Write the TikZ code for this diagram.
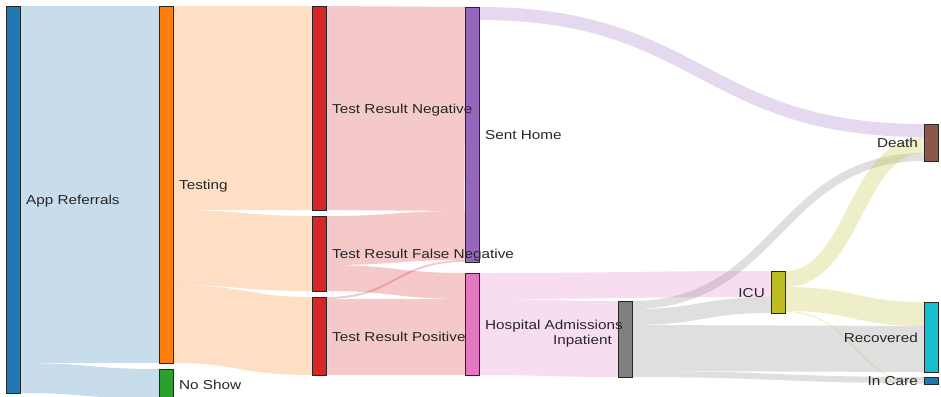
\documentclass[tikz,border=0pt]{standalone}
\usepackage{fontspec}
\setmainfont{Liberation Sans}[FakeStretch=1.18]
\usetikzlibrary{calc}
\definecolor{cblue}{HTML}{1F77B4}
\definecolor{corange}{HTML}{FF7F0E}
\definecolor{cgreen}{HTML}{2CA02C}
\definecolor{cred}{HTML}{D62728}
\definecolor{cpurple}{HTML}{9467BD}
\definecolor{cbrown}{HTML}{8C564B}
\definecolor{cpink}{HTML}{E377C2}
\definecolor{cgray}{HTML}{7F7F7F}
\definecolor{colive}{HTML}{BCBD22}
\definecolor{ccyan}{HTML}{17BECF}
\newcommand\flowlink[7]{%
  \draw[line width=#5bp, draw=#6, draw opacity=0.25]
    ($(#1.north east)+(0,{#2+#5/2})$) .. controls +(#7,0) and +(-#7,0) ..
    ($(#3.north west)+(0,{#4+#5/2})$);
}
\begin{document}
\begin{tikzpicture}[x=1bp,y=-1bp,
  geo/.style={minimum width=14bp, inner sep=0pt, outer sep=0pt, anchor=north west},
  lbl/.style={font=\fontsize{13}{15}\selectfont, text=black!85, inner sep=0pt},
  lblL/.style={lbl, anchor=base west},
  lblR/.style={lbl, anchor=base east}]
\useasboundingbox (0,0) rectangle (941,396);
\clip (0,0) rectangle (941,396);
% nodes (geometry first, boxes drawn later on top of the links)
\path
  (6,6)     node[geo, minimum height=387bp] (ar) {}
  (159,6)   node[geo, minimum height=357bp] (te) {}
  (159,369) node[geo, minimum height=30bp] (ns) {}
  (312,6)   node[geo, minimum height=204bp] (trn) {}
  (312,216) node[geo, minimum height=75bp] (trfn) {}
  (312,297) node[geo, minimum height=78bp] (trp) {}
  (465,7)   node[geo, minimum height=255bp] (sh) {}
  (465,273) node[geo, minimum height=102bp] (hosp) {}
  (618,301) node[geo, minimum height=76bp] (inp) {}
  (771,271) node[geo, minimum height=42bp] (icu) {}
  (924,124) node[geo, minimum height=37bp] (death) {}
  (924,302) node[geo, minimum height=70bp] (rec) {}
  (924,377) node[geo, minimum height=7bp] (incare) {};
% links
\flowlink{ar}{0}{te}{0}{357}{cblue}{69.5}
\flowlink{ar}{357}{ns}{0}{30}{cblue}{69.5}
\flowlink{te}{0}{trn}{0}{204}{corange}{69.5}
\flowlink{te}{204}{trfn}{0}{75}{corange}{69.5}
\flowlink{te}{279}{trp}{0}{78}{corange}{69.5}
\flowlink{trn}{0}{sh}{0}{204}{cred}{69.5}
\flowlink{trfn}{0}{sh}{204}{49}{cred}{69.5}
\flowlink{trp}{0}{sh}{253}{2}{cred}{69.5}
\flowlink{trfn}{49}{hosp}{0}{26}{cred}{69.5}
\flowlink{trp}{2}{hosp}{26}{76}{cred}{69.5}
\flowlink{sh}{0}{death}{0}{13}{cpurple}{222.5}
\flowlink{hosp}{0}{icu}{0}{26}{cpink}{146}
\flowlink{hosp}{26}{inp}{0}{76}{cpink}{69.5}
\flowlink{inp}{0}{death}{29}{8}{cgray}{146}
\flowlink{inp}{8}{icu}{26}{16}{cgray}{69.5}
\flowlink{inp}{24}{rec}{24}{46}{cgray}{146}
\flowlink{inp}{70}{incare}{0}{6}{cgray}{146}
\flowlink{icu}{0}{death}{13}{16}{colive}{69.5}
\flowlink{icu}{16}{rec}{0}{24}{colive}{69.5}
\flowlink{icu}{40}{incare}{6}{1}{colive}{69.5}
% node boxes
\foreach \n/\c in {ar/cblue, te/corange, ns/cgreen, trn/cred, trfn/cred, trp/cred, sh/cpurple, hosp/cpink, inp/cgray, icu/colive, death/cbrown, rec/ccyan, incare/cblue}
  \draw[draw=black!85, line width=0.8bp, fill=\c] (\n.north west) rectangle (\n.south east);
% labels
\node[lblL] (lar)   at ($(ar.east)+(6,5)$)   {App Referrals};
\node[lblL] (lte)   at ($(te.east)+(6,5)$)   {Testing};
\node[lblL] (lns)   at ($(ns.east)+(6,5)$)   {No Show};
\node[lblL] (ltrn)  at ($(trn.east)+(6,5)$)  {Test Result Negative};
\node[lblL] (ltrfn) at ($(trfn.east)+(6,5)$) {Test Result False Negative};
\node[lblL] (ltrp)  at ($(trp.east)+(6,5)$)  {Test Result Positive};
\node[lblL] (lsh)   at ($(sh.east)+(6,5)$)   {Sent Home};
\node[lblL] (lhosp) at ($(hosp.east)+(6,5)$) {Hospital Admissions};
\node[lblR] (linp)  at ($(inp.west)+(-6,5)$) {Inpatient};
\node[lblR] (licu)  at ($(icu.west)+(-6,5)$) {ICU};
\node[lblR] (ldeath) at ($(death.west)+(-6,5)$) {Death};
\node[lblR] (lrec)  at ($(rec.west)+(-6,5)$) {Recovered};
\node[lblR] (linc)  at ($(incare.west)+(-6,5)$) {In Care};
\end{tikzpicture}
\end{document}
